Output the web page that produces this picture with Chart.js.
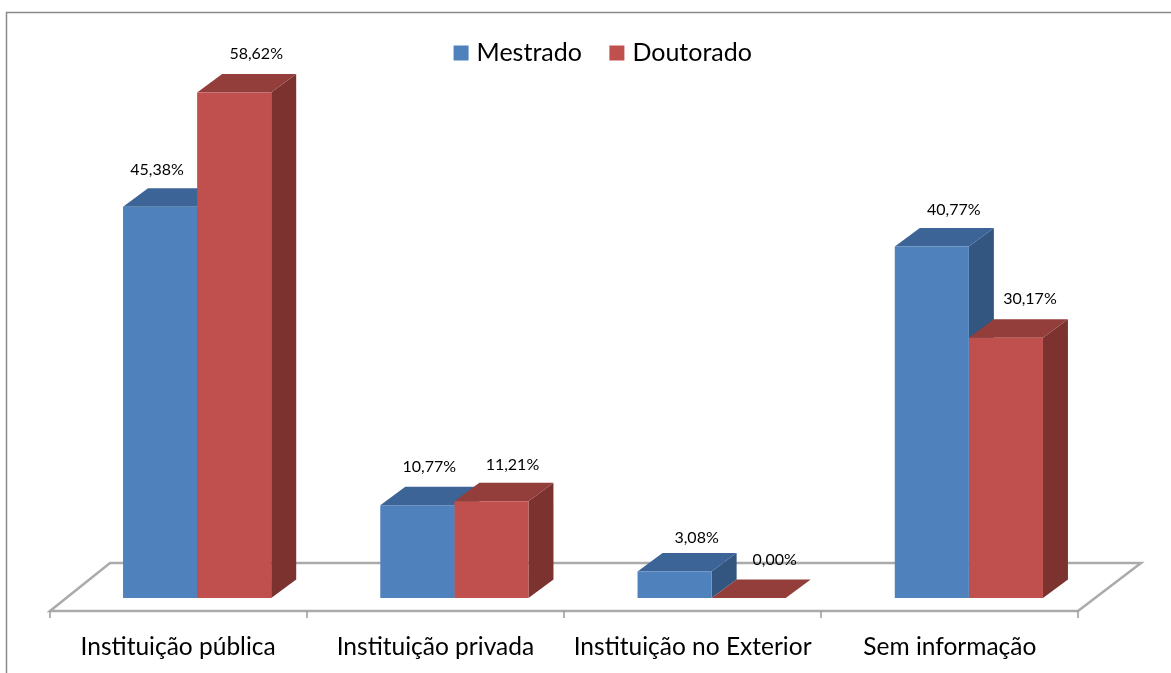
<!DOCTYPE html>
<html>
<head>
<meta charset="utf-8">
<style>html,body{margin:0;padding:0;background:#fff}canvas{display:block}</style>
<script src="https://cdn.jsdelivr.net/npm/chart.js@4"></script>
</head>
<body>
<canvas id="c" width="1171" height="673"></canvas>
<script>
const categories = ["Instituição pública","Instituição privada","Instituição no Exterior","Sem informação"];
const mestrado = [45.38,10.77,3.08,40.77];
const doutorado = [58.62,11.21,0.00,30.17];
const seriesNames = ["Mestrado","Doutorado"];

const FONT = "Lato, Carlito, sans-serif";
const frontCol = ["#4F81BD","#C0504D"];
const topCol = ["#3C6496","#943E3B"];
const sideCol = ["#335680","#7C322F"];
const labelNudge = [[-3,22],[12,21],[22,26],[22,24]];
const labelLift = [[37,39],[38,36],[34,38],[37,39]];
const DX = 25, DY = 18.5;

const scene = {
  id:"scene",
  afterLayout(chart){
    const l = chart.legend;
    l.left += 22; l.right += 22;
    l.top -= 5; l.bottom -= 5;
  },
  beforeDraw(chart){
    const c = chart.ctx;
    c.save();
    c.fillStyle="#fff"; c.fillRect(0,0,chart.width,chart.height);
    c.strokeStyle="#8A8A8A"; c.lineWidth=1.5;
    c.beginPath(); c.moveTo(6.5,673); c.lineTo(6.5,12.5); c.lineTo(1171,12.5); c.stroke();
    c.restore();
  },
  beforeDatasetsDraw(chart){
    const c = chart.ctx, xs = chart.scales.x, y0 = chart.scales.y.getPixelForValue(0);
    const fl = xs.left-18.5, fr = xs.right-19.5, fy = y0+13;
    c.save();
    c.strokeStyle="#ABABAB"; c.lineWidth=2.5; c.lineJoin="miter";
    c.beginPath();
    c.moveTo(fl,fy); c.lineTo(fl+60,fy-48); c.lineTo(fr+63,fy-48); c.lineTo(fr,fy); c.closePath(); c.stroke();
    c.lineWidth=1.5; c.strokeStyle="#9A9A9A";
    for(let i=0;i<=categories.length;i++){
      const x = fl+i*(fr-fl)/categories.length;
      c.beginPath(); c.moveTo(x,fy); c.lineTo(x,fy+7); c.stroke();
    }
    categories.forEach((_,i)=>{
      [0,1].forEach(s=>{
        const b = chart.getDatasetMeta(s).data[i];
        const l = b.x-b.width/2, r = b.x+b.width/2, t = b.y;
        c.fillStyle=sideCol[s];
        c.beginPath(); c.moveTo(r,t); c.lineTo(r+DX,t-DY); c.lineTo(r+DX,y0-DY); c.lineTo(r,y0); c.closePath(); c.fill();
        c.fillStyle=topCol[s];
        c.beginPath(); c.moveTo(l,t); c.lineTo(l+DX,t-DY); c.lineTo(r+DX,t-DY); c.lineTo(r,t); c.closePath(); c.fill();
      });
    });
    c.restore();
  },
  afterDatasetsDraw(chart){
    const c = chart.ctx;
    c.save();
    c.font = "16px "+FONT; c.fillStyle="#000"; c.textAlign="center"; c.textBaseline="middle";
    chart.data.datasets.forEach((d,s)=>{
      chart.getDatasetMeta(s).data.forEach((b,i)=>{
        c.fillText(d.data[i].toFixed(2).replace(".",",")+"%", b.x+labelNudge[i][s], b.y-labelLift[i][s]);
      });
    });
    c.restore();
  }
};

new Chart(document.getElementById("c"),{
  type:"bar",
  data:{labels:categories,datasets:[
    {label:seriesNames[0],data:mestrado,backgroundColor:frontCol[0],borderWidth:0},
    {label:seriesNames[1],data:doutorado,backgroundColor:frontCol[1],borderWidth:0}
  ]},
  options:{
    responsive:false,animation:false,
    categoryPercentage:0.576,barPercentage:1,
    layout:{padding:{left:68.5,right:73.5,top:13.6,bottom:0}},
    scales:{
      x:{grid:{display:false},border:{display:false},
         afterFit(s){s.height=75;},
         ticks:{color:"#000",font:{family:FONT,size:24.5},labelOffset:-19,padding:26,maxRotation:0,autoSkip:false}},
      y:{display:false,min:0,max:60}
    },
    plugins:{
      tooltip:{enabled:false},
      legend:{position:"top",labels:{font:{family:FONT,size:25},color:"#000",usePointStyle:true,pointStyle:"rect",boxWidth:6,boxHeight:15,padding:32}}
    }
  },
  plugins:[scene]
});
</script>
</body>
</html>
